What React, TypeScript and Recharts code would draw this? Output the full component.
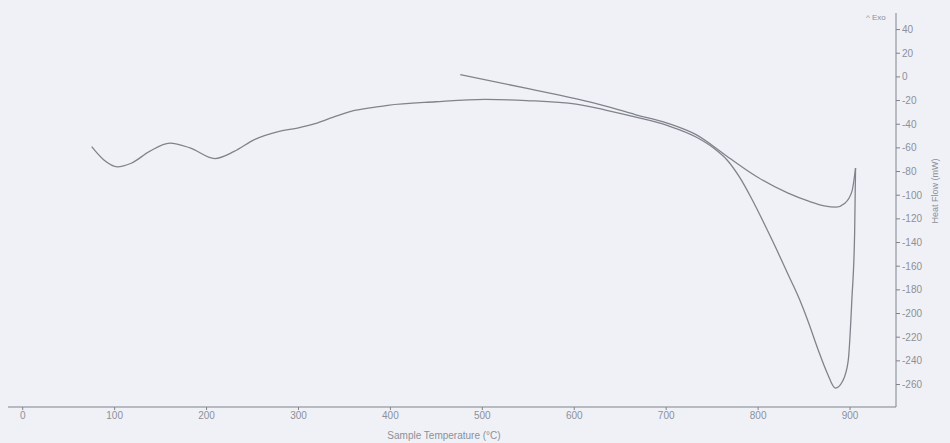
import { LineChart, Line, XAxis, YAxis } from 'recharts'

// DSC heating curve (sample temperature °C vs heat flow mW)
const dscTemp = [75, 88, 103, 118, 138, 160, 182, 209, 230, 252, 279, 300, 318, 338, 358, 380, 397, 449, 503, 548, 602, 634, 667, 701, 733, 753, 766, 780, 793, 806, 819, 832, 845, 855, 865, 875, 884, 892, 898, 902, 905, 906]
const dscHeatFlow = [-59, -70, -76, -73, -63, -56, -60, -69, -63, -53, -46, -43, -39.5, -34, -29, -26, -24, -21, -19, -20, -23, -28, -34, -41, -51, -61, -70, -85, -103, -123, -144, -166, -188, -208, -230, -250, -263, -257, -240, -188, -132, -77]

// constructed baseline / tangent
const baseTemp = [476, 550, 621, 667, 701, 733, 766, 800, 832, 855, 872, 885, 894, 902, 906]
const baseHeatFlow = [2, -10, -22, -32, -39, -49, -67, -85, -98, -105, -109, -110, -107, -97, -77]

const xTicks = [0, 100, 200, 300, 400, 500, 600, 700, 800, 900]
const yTicks = [40, 20, 0, -20, -40, -60, -80, -100, -120, -140, -160, -180, -200, -220, -240, -260]

const dscData = dscTemp.map((t, i) => ({ temp: t, flow: dscHeatFlow[i] }))
const baseData = baseTemp.map((t, i) => ({ temp: t, flow: baseHeatFlow[i] }))

const INK = '#80838b'
const TEXT = '#8d9098'

export default function App() {
  return (
    <div
      style={{
        position: 'absolute',
        left: 0,
        top: 0,
        width: 950,
        height: 443,
        background: '#eff1f7',
        fontFamily: '"Liberation Sans", Arial, sans-serif',
      }}
    >
      <LineChart width={950} height={443} margin={{ top: 13, right: 14, left: 8, bottom: 0 }}>
        <XAxis
          type="number"
          dataKey="temp"
          domain={[-16, 950]}
          ticks={xTicks}
          allowDataOverflow
          height={36}
          stroke={INK}
          tickSize={3}
          tick={{ fontSize: 10, fill: TEXT }}
          label={{ value: 'Sample Temperature (°C)', position: 'insideBottom', offset: 4, dx: -8, fontSize: 10, fill: TEXT }}
        />
        <YAxis
          type="number"
          orientation="right"
          domain={[-279, 54]}
          ticks={yTicks}
          allowDataOverflow
          width={40}
          stroke={INK}
          tickSize={4}
          tickMargin={2}
          tick={{ fontSize: 10, fill: TEXT, textAnchor: 'start' }}
          label={{
            content: ({ viewBox }: any) => (
              <text
                x={viewBox.x + 42}
                y={viewBox.y + 178}
                transform={`rotate(-90, ${viewBox.x + 42}, ${viewBox.y + 178})`}
                textAnchor="middle"
                fontSize={9}
                fill={TEXT}
              >
                Heat Flow (mW)
              </text>
            ),
          }}
        />
        <Line
          data={dscData}
          dataKey="flow"
          type="monotoneX"
          stroke={INK}
          strokeWidth={1.3}
          dot={false}
          isAnimationActive={false}
        />
        <Line
          data={baseData}
          dataKey="flow"
          type="monotoneX"
          stroke={INK}
          strokeWidth={1.3}
          dot={false}
          isAnimationActive={false}
        />
      </LineChart>
      <div style={{ position: 'absolute', left: 866, top: 13, fontSize: 8, color: TEXT }}>^ Exo</div>
    </div>
  )
}
